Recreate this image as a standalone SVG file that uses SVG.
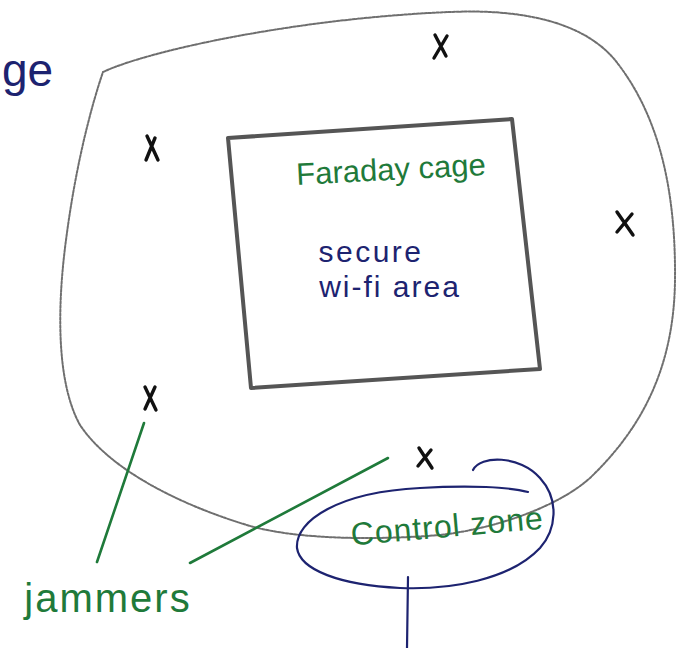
<svg xmlns="http://www.w3.org/2000/svg" width="686" height="648" viewBox="0 0 686 648">
  <defs>
    <style>
      .pencil { fill: none; stroke: #6f6f6f; stroke-width: 2; stroke-dasharray: 2.5 1.5; stroke-linecap: round; }
      .cage { fill: none; stroke: #555555; stroke-width: 4; stroke-linejoin: round; }
      .mark { fill: none; stroke: #111111; stroke-width: 3.4; stroke-linecap: round; }
      .green { fill: none; stroke: #1f7a3a; stroke-width: 2.6; stroke-linecap: round; }
      .blue { fill: none; stroke: #1d2370; stroke-width: 2.2; stroke-linecap: round; }
      .t { font-family: "Liberation Sans", "DejaVu Sans", sans-serif; }
      .tg { fill: #1f7a3a; }
      .tb { fill: #1d2370; }
    </style>
  </defs>

  <rect width="686" height="648" fill="#ffffff"/>

  <!-- cut-off label at the left edge -->
  <g id="edge-label">
    <text class="t tb" x="2" y="86" font-size="46">ge</text>
  </g>

  <!-- outer boundary -->
  <g id="perimeter">
    <path class="pencil" d="M 103,72 C 150,50 300,18 450,12 C 540,8 590,30 615,60 C 655,110 676,180 675,280 C 674,370 640,430 590,478 C 560,505 500,528 440,535 C 380,540 300,540 250,526 C 180,505 110,470 80,425 C 55,380 58,300 66,240 C 75,170 90,110 103,72"/>
  </g>

  <!-- shielded room -->
  <g id="faraday-cage">
    <polygon class="cage" points="228,138 512,119 540,369 251,388"/>
    <text class="t tg" x="391" y="180" font-size="31" text-anchor="middle" transform="rotate(-3 391 170)">Faraday cage</text>
    <text class="t tb" x="371" y="262" font-size="30" letter-spacing="2.5" text-anchor="middle">secure</text>
    <text class="t tb" x="390" y="297" font-size="30" letter-spacing="2" text-anchor="middle">wi-fi area</text>
  </g>

  <!-- jammer positions -->
  <g id="jammer-marks">
    <path class="mark" d="M 435,35 L 446,56 M 447,36 L 434,58"/>
    <path class="mark" d="M 147,136 L 158,160 M 155,138 L 146,160"/>
    <path class="mark" d="M 617,212 L 633,235 M 632,214 L 617,232"/>
    <path class="mark" d="M 145,387 L 156,410 M 155,387 L 145,409"/>
    <path class="mark" d="M 419,448 L 432,468 M 431,450 L 418,466"/>
  </g>

  <!-- control zone -->
  <g id="control-zone">
    <path class="blue" d="M 473,470 C 480,455 520,455 540,478 C 560,500 556,530 540,548 C 510,580 450,590 400,588 C 340,585 300,570 297,548 C 295,520 340,492 420,488 C 470,485 510,487 528,492"/>
    <text class="t tg" x="447" y="537" font-size="32" letter-spacing="1" text-anchor="middle" transform="rotate(-5 447 525)">Control zone</text>
  </g>

  <!-- jammers label -->
  <g id="jammers-label">
    <text class="t tg" x="108" y="612" font-size="40" letter-spacing="2" text-anchor="middle">jammers</text>
  </g>

  <!-- connectors -->
  <g id="connectors">
    <path class="green" d="M 144,423 L 97,562"/>
    <path class="green" d="M 190,563 L 388,458"/>
    <path class="blue" d="M 408,577 L 407,648"/>
  </g>
</svg>
